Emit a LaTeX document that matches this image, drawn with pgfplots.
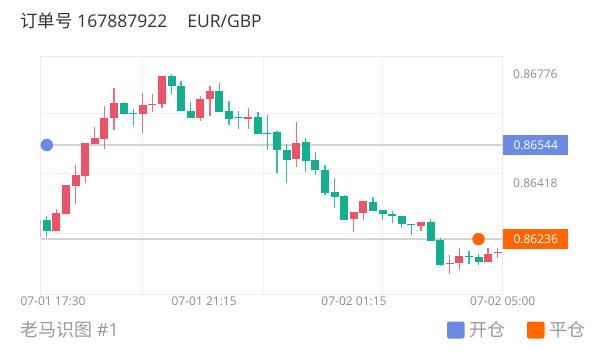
\documentclass[border=0pt]{standalone}
\usepackage{pgfplots}
\pgfplotsset{compat=1.18}
\usepackage{pgfplotstable}
\usepackage{fontspec}
\setmainfont{Open Sans}
\newfontfamily\cjk{Noto Sans CJK SC}
\definecolor{up}{HTML}{EB5468}
\definecolor{down}{HTML}{12B08F}
\definecolor{openc}{HTML}{6B8AE3}
\definecolor{closec}{HTML}{FF6600}
\definecolor{lbl}{HTML}{8C8C8C}
\definecolor{ttl}{HTML}{333333}
\definecolor{foot}{HTML}{999999}

% rising candles (close > open)
\pgfplotstableread{
i O H L C
0 0.86244 0.86305 0.86239 0.86298
2 0.86262 0.86334 0.86262 0.86321
3 0.86317 0.86412 0.86317 0.86412
4 0.86409 0.86478 0.86352 0.86445
5 0.86441 0.86550 0.86419 0.86550
6 0.86547 0.86602 0.86547 0.86568
7 0.86565 0.86673 0.86530 0.86633
8 0.86631 0.86732 0.86593 0.86683
11 0.86645 0.86715 0.86584 0.86675
12 0.86675 0.86710 0.86653 0.86678
13 0.86679 0.86769 0.86664 0.86769
17 0.86632 0.86705 0.86622 0.86696
18 0.86695 0.86737 0.86639 0.86722
22 0.86629 0.86666 0.86597 0.86637
27 0.86497 0.86620 0.86471 0.86551
33 0.86301 0.86325 0.86258 0.86325
34 0.86321 0.86360 0.86298 0.86360
40 0.86280 0.86293 0.86263 0.86293
43 0.86153 0.86184 0.86121 0.86156
44 0.86157 0.86206 0.86135 0.86180
47 0.86160 0.86207 0.86160 0.86188
48 0.86189 0.86206 0.86173 0.86192
}\uptable

% falling candles (close < open)
\pgfplotstableread{
i O H L C
1 0.86298 0.86312 0.86244 0.86262
9 0.86681 0.86686 0.86646 0.86646
10 0.86648 0.86663 0.86606 0.86646
14 0.86770 0.86776 0.86710 0.86737
15 0.86738 0.86755 0.86655 0.86655
16 0.86656 0.86686 0.86632 0.86632
19 0.86722 0.86748 0.86652 0.86652
20 0.86655 0.86688 0.86610 0.86629
21 0.86635 0.86656 0.86597 0.86632
23 0.86637 0.86653 0.86581 0.86581
24 0.86584 0.86642 0.86528 0.86580
25 0.86586 0.86591 0.86451 0.86527
26 0.86528 0.86548 0.86418 0.86495
28 0.86553 0.86568 0.86455 0.86493
29 0.86495 0.86520 0.86446 0.86461
30 0.86462 0.86477 0.86380 0.86386
31 0.86390 0.86437 0.86337 0.86374
32 0.86376 0.86380 0.86297 0.86298
35 0.86358 0.86374 0.86329 0.86329
36 0.86332 0.86332 0.86297 0.86317
37 0.86318 0.86328 0.86288 0.86312
38 0.86312 0.86312 0.86271 0.86284
39 0.86284 0.86284 0.86249 0.86281
41 0.86291 0.86302 0.86230 0.86230
42 0.86232 0.86240 0.86147 0.86150
45 0.86181 0.86197 0.86153 0.86176
46 0.86177 0.86187 0.86151 0.86160
}\downtable

\begin{document}
\begin{tikzpicture}[x=1bp,y=1bp]
\useasboundingbox (0,0) rectangle (603,352);
\begin{axis}[
  at={(40.5bp,58bp)}, anchor=south west,
  width=462.2bp, height=237.5bp, scale only axis,
  xmin=0.343, xmax=48.52, ymin=0.86056, ymax=0.86834,
  axis line style={draw=black!8, line width=0.8bp},
  grid=major, grid style={draw=black!5, line width=1bp},
  xtick={11.0,23.57,36.04}, xticklabels={,,},
  ytick={0.86648,0.86451,0.86255}, yticklabels={,,},
  extra x ticks={1.65,17.4,33.02,48.52},
  extra x tick labels={07-01 17:30,07-01 21:15,07-02 01:15,07-02 05:00},
  extra x tick style={grid=none},
  extra y ticks={0.86776,0.86418},
  extra y tick labels={0.86776,0.86418},
  extra y tick style={grid=none},
  major tick length=0pt,
  xtick pos=bottom, ytick pos=right, yticklabel pos=right,
  tick label style={font=\fontsize{12bp}{14bp}\selectfont, text=lbl},
  xticklabel style={anchor=north, inner sep=0pt, yshift=-3bp},
  yticklabel style={anchor=west, inner sep=0pt, xshift=10.3bp},
  clip=true,
]
% position marker lines
\addplot[draw=black!17, line width=1.3bp, forget plot] coordinates {(0.343,0.86544) (48.52,0.86544)};
\addplot[draw=black!17, line width=1.3bp, forget plot] coordinates {(0.343,0.86236) (48.52,0.86236)};
% wicks
\addplot[draw=none, mark=none, forget plot, error bars/.cd, y dir=plus, y explicit, error mark=none,
  error bar style={draw=up, solid, line width=1.3bp, opacity=0.85}]
  table[x=i, y=L, y error plus expr=\thisrow{H}-\thisrow{L}] {\uptable};
\addplot[draw=none, mark=none, forget plot, error bars/.cd, y dir=plus, y explicit, error mark=none,
  error bar style={draw=down, solid, line width=1.3bp, opacity=0.85}]
  table[x=i, y=L, y error plus expr=\thisrow{H}-\thisrow{L}] {\downtable};
% bodies
\addplot[draw=none, mark=none, forget plot, error bars/.cd, y dir=plus, y explicit, error mark=none,
  error bar style={draw=up, solid, line width=8bp}]
  table[x=i, y=O, y error plus expr={max(\thisrow{C}-\thisrow{O},0.00003)}] {\uptable};
\addplot[draw=none, mark=none, forget plot, error bars/.cd, y dir=plus, y explicit, error mark=none,
  error bar style={draw=down, solid, line width=8bp}]
  table[x=i, y=C, y error plus expr={max(\thisrow{O}-\thisrow{C},0.00003)}] {\downtable};
% open / close points
\addplot[only marks, mark=*, mark size=6bp, draw=openc, fill=openc, forget plot] coordinates {(1,0.86544)};
\addplot[only marks, mark=*, mark size=6bp, draw=closec, fill=closec, forget plot] coordinates {(46,0.86236)};
\coordinate (mo) at (axis cs:48.52,0.86544);
\coordinate (mc) at (axis cs:48.52,0.86236);
\end{axis}
\node[fill=openc, text=white, anchor=west, minimum width=65bp, minimum height=20bp, inner sep=0pt,
  font=\fontsize{12bp}{14bp}\selectfont] at ([xshift=0.3bp]mo) {0.86544};
\node[fill=closec, text=white, anchor=west, minimum width=65bp, minimum height=20bp, inner sep=0pt,
  font=\fontsize{12bp}{14bp}\selectfont] at ([xshift=0.3bp]mc) {0.86236};
% title
\node[anchor=west, inner sep=0pt, text=ttl, font=\fontsize{17.5bp}{20bp}\selectfont] at (20,331)
  {{\cjk 订单号} 167887922\hspace{20bp}EUR/GBP};
% footer
\node[anchor=west, inner sep=0pt, text=foot, font=\fontsize{18bp}{20bp}\selectfont] at (20,22)
  {{\cjk 老马识图} \#1};
\fill[openc, rounded corners=2bp] (447,13.5) rectangle (464.5,30.5);
\node[anchor=west, inner sep=0pt, text=foot, font=\fontsize{18bp}{20bp}\selectfont\cjk] at (469,22) {开仓};
\fill[closec, rounded corners=2bp] (527,13.5) rectangle (544.5,30.5);
\node[anchor=west, inner sep=0pt, text=foot, font=\fontsize{18bp}{20bp}\selectfont\cjk] at (549.5,22) {平仓};
\end{tikzpicture}
\end{document}
